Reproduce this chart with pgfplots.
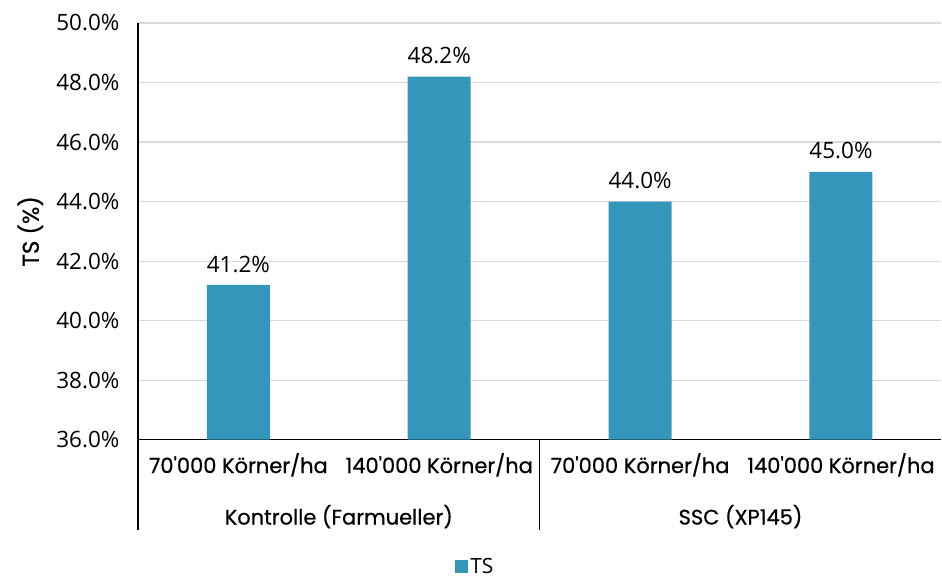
\documentclass[border=0pt]{standalone}
\usepackage{pgfplots}
\pgfplotsset{compat=1.18}
\usepackage{fontspec}
\setmainfont{Open Sans}
\newfontfamily\catfont[FakeBold=0.6]{Poppins}
\definecolor{barblue}{HTML}{3596BC}
\definecolor{gridgray}{HTML}{D9D9D9}
\begin{document}
\begin{tikzpicture}
\pgfplotstableread{
x y
0 41.2
1 48.2
2 44.0
3 45.0
}\datatable
\begin{axis}[
  scale only axis,
  width=804pt, height=417pt,
  xmin=-0.5, xmax=3.5,
  ymin=36, ymax=50,
  ytick={36,38,...,50},
  xtick={0,1,2,3},
  /pgf/number format/assume math mode=true,
  xticklabels={70'000 Körner/ha,140'000 Körner/ha,70'000 Körner/ha,140'000 Körner/ha},
  xticklabel style={font=\catfont\fontsize{21}{24}\selectfont, yshift=-10pt},
  yticklabel={\pgfmathprintnumber[fixed,fixed zerofill,precision=1]{\tick}\%},
  yticklabel style={font=\fontsize{22.5}{26}\selectfont, xshift=-15pt},
  ymajorgrids,
  grid style={gridgray, line width=1.2pt},
  axis x line*=bottom,
  axis y line*=left,
  axis line style={black, line width=1.2pt},
  major tick length=0pt,
  ylabel={TS (\%)},
  ylabel style={font=\catfont\fontsize{23}{28}\selectfont, at={(rel axis cs:-0.134,0.5)}, anchor=center},
  ybar, bar width=63pt,
  nodes near coords={\pgfmathprintnumber[fixed,fixed zerofill,precision=1]{\pgfplotspointmeta}\%},
  every node near coord/.append style={font=\fontsize{22.5}{26}\selectfont, black, yshift=9pt},
  legend style={at={(rel axis cs:0.42,-0.305)}, anchor=center, draw=none, font=\fontsize{21}{24}\selectfont},
  legend image code/.code={\fill[barblue] (0pt,-6pt) rectangle (13pt,7pt);},
  clip=false,
]
\addplot[fill=barblue, draw=none] table[x=x,y=y] {\datatable};
\addlegendentry{TS}
\draw[black, line width=1.2pt] (rel axis cs:0,0) -- ([yshift=-90pt]rel axis cs:0,0);
\draw[black, line width=1.2pt] (rel axis cs:0.5,0) -- ([yshift=-90pt]rel axis cs:0.5,0);
\node[font=\catfont\fontsize{21}{24}\selectfont] at ([yshift=-77pt]axis cs:0.5,36) {Kontrolle (Farmueller)};
\node[font=\catfont\fontsize{21}{24}\selectfont] at ([yshift=-77pt]axis cs:2.5,36) {SSC (XP145)};
\path ([xshift=-138pt,yshift=-137pt]rel axis cs:0,0) ([yshift=23pt]rel axis cs:1,1);
\end{axis}
\end{tikzpicture}
\end{document}
